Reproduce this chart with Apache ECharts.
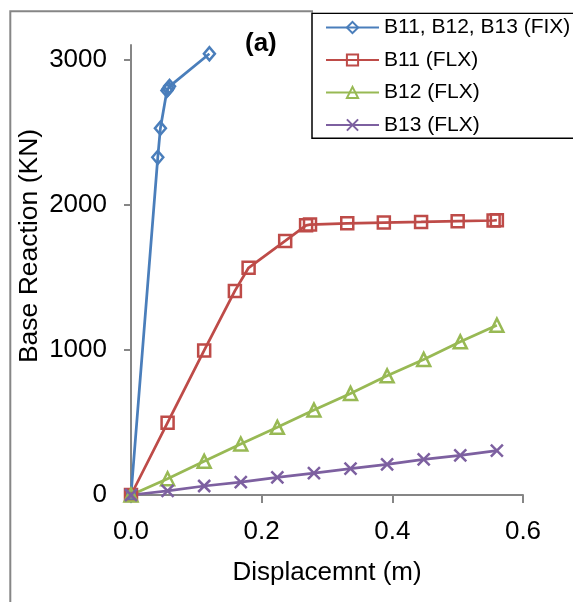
<!DOCTYPE html>
<html>
<head>
  <meta charset="utf-8">
  <title>Base reaction vs displacement</title>
  <script src="https://cdn.jsdelivr.net/npm/echarts@6/dist/echarts.min.js"></script>
</head>
<body style="margin:0;background:#fff">
<div id="container" style="width:573px;height:602px"></div>
<script type="text/javascript">
  // series names
  var seriesNames = ['B11, B12, B13 (FIX)', 'B11 (FLX)', 'B12 (FLX)', 'B13 (FLX)'];

  // displacement (m) / base reaction (KN)
  var fixX = [0, 0.041, 0.045, 0.055, 0.057, 0.059, 0.120];
  var fixY = [0, 2326, 2527, 2787, 2800, 2815, 3040];

  var b11X = [0, 0.056, 0.112, 0.159, 0.180, 0.236, 0.268, 0.274, 0.331, 0.387, 0.444, 0.500, 0.555, 0.560];
  var b11Y = [0, 498, 996, 1406, 1565, 1750, 1858, 1863, 1872, 1877, 1881, 1886, 1891, 1893];

  var b12X = [0, 0.056, 0.112, 0.168, 0.224, 0.280, 0.336, 0.392, 0.448, 0.504, 0.560];
  var b12Y = [0, 112, 232, 351, 466, 585, 700, 821, 934, 1055, 1170];

  var b13X = [0, 0.056, 0.112, 0.168, 0.224, 0.280, 0.336, 0.392, 0.448, 0.504, 0.560];
  var b13Y = [0, 28, 62, 89, 122, 151, 181, 211, 245, 273, 305];

  var yTicks = [0, 1000, 2000, 3000];

  function pairs(xs, ys) {
    return xs.map(function (x, i) { return [x, ys[i]]; });
  }

  var FONT = "'Liberation Sans', Arial, sans-serif";
  var AXIS_GRAY = '#868686';
  var colors = ['#4a7ebb', '#be4b48', '#98b954', '#7d60a0'];

  var dom = document.getElementById('container');
  var myChart = echarts.init(dom, null, { renderer: 'canvas' });

  // hollow markers, the line shows through them as in the original
  function lineSeries(idx, data, symbol, size) {
    return {
      name: seriesNames[idx],
      type: 'line',
      data: data,
      clip: false,
      symbol: symbol,
      symbolSize: size,
      showAllSymbol: true,
      lineStyle: { color: colors[idx], width: 2.75 },
      itemStyle: { color: 'rgba(0,0,0,0)', borderColor: colors[idx], borderWidth: 2.5 },
      emphasis: { disabled: true },
      animation: false
    };
  }

  var option = {
    animation: false,
    color: colors,
    textStyle: { fontFamily: FONT },
    grid: { left: 131, right: 50, top: 45, bottom: 107, containLabel: false },
    xAxis: {
      type: 'value',
      min: 0,
      max: 0.6,
      interval: 0.2,
      axisLine: { show: true, lineStyle: { color: AXIS_GRAY, width: 2 } },
      axisTick: { show: true, length: 8, lineStyle: { color: AXIS_GRAY, width: 2 } },
      splitLine: { show: false },
      axisLabel: {
        margin: 24,
        color: '#000',
        fontSize: 26,
        fontFamily: FONT,
        formatter: function (v) { return v.toFixed(1); }
      }
    },
    yAxis: {
      type: 'value',
      min: 0,
      max: 3100,
      interval: 1000,
      axisLine: { show: true, lineStyle: { color: AXIS_GRAY, width: 2 } },
      axisTick: { show: true, length: 7, customValues: yTicks, lineStyle: { color: AXIS_GRAY, width: 2 } },
      splitLine: { show: false },
      axisLabel: {
        margin: 24,
        color: '#000',
        fontSize: 26,
        fontFamily: FONT,
        customValues: yTicks,
        formatter: function (v) { return String(v); }
      }
    },
    legend: {
      orient: 'vertical',
      left: 325,
      top: 17,
      padding: 0,
      itemWidth: 53,
      itemHeight: 14,
      itemGap: 11.5,
      textStyle: { fontSize: 21, lineHeight: 21, color: '#000', fontFamily: FONT },
      data: seriesNames
    },
    graphic: [
      {
        type: 'rect', z: -10, silent: true,
        shape: { x: 10.3, y: 11.3, width: 800, height: 800 },
        style: { fill: 'none', stroke: AXIS_GRAY, lineWidth: 2 }
      },
      {
        type: 'rect', z: 0, silent: true,
        shape: { x: 312, y: 13.3, width: 400, height: 125 },
        style: { fill: '#fff', stroke: '#000', lineWidth: 1.5 }
      },
      {
        type: 'rect', z: 0, silent: true,
        shape: { x: 313, y: 8, width: 400, height: 4.6 },
        style: { fill: '#fff', stroke: null }
      },
      {
        type: 'text', silent: true,
        left: 245, top: 31,
        style: { text: '(a)', font: "bold 26px " + FONT, fill: '#000' }
      },
      {
        type: 'text', silent: true,
        x: 30, y: 246, rotation: Math.PI / 2,
        style: {
          text: 'Base Reaction (KN)', font: "26.5px " + FONT, fill: '#000',
          align: 'center', verticalAlign: 'middle'
        }
      },
      {
        type: 'text', silent: true,
        x: 327, y: 573,
        style: {
          text: 'Displacemnt (m)', font: "26px " + FONT, fill: '#000',
          align: 'center', verticalAlign: 'middle'
        }
      }
    ],
    series: [
      lineSeries(0, pairs(fixX, fixY), 'diamond', [11, 13]),
      lineSeries(1, pairs(b11X, b11Y), 'rect', 12),
      lineSeries(2, pairs(b12X, b12Y), 'triangle', 13),
      lineSeries(3, pairs(b13X, b13Y), 'path://M0,0L10,10M0,10L10,0', 12)
    ]
  };

  myChart.setOption(option);
</script>
</body>
</html>
